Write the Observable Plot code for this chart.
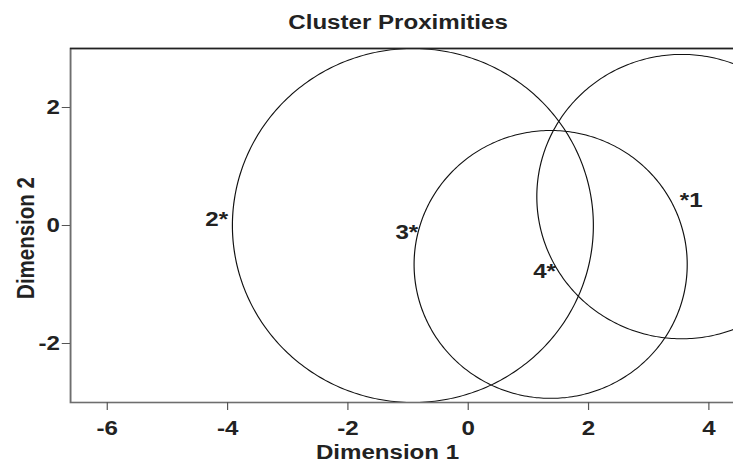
<!DOCTYPE html>
<html><head><meta charset="utf-8">
<script src="https://cdn.jsdelivr.net/npm/d3@7"></script>
<script src="https://cdn.jsdelivr.net/npm/@observablehq/plot@0.6"></script>
<style>
html,body{margin:0;padding:0;background:#fff;overflow:hidden;width:733px;height:464px;}
#chart svg{transform-origin:0 0;transform:scaleX(1.176);display:block;background:#fff;}
</style></head><body><div id="chart"></div>
<script>
// Cluster centres (labels) in the two-dimensional space
const pointIds = ["1", "2", "3", "4"];
const pointX = [3.55, -4.08, -0.92, 1.37];
const pointY = [0.49, 0.23, 0.0, -0.66];
// Proximity circles (centre and radius, in data units)
const circleIds = ["1", "3", "4"];
const circleX = [3.55, -0.92, 1.37];
const circleY = [0.49, 0.0, -0.66];
const circleR = [2.41, 3.0, 2.27];
// Axis ticks
const xTicks = [-6, -4, -2, 0, 2, 4];
const yTicks = [-2, 0, 2];
const titleText = "Cluster Proximities";
const xLabel = "Dimension 1";
const yLabel = "Dimension 2";

const points = pointIds.map((id, i) => ({id, x: pointX[i], y: pointY[i]}));
const circlePts = [];
circleIds.forEach((id, i) => {
  for (let k = 0; k <= 360; k++) {
    const a = k * Math.PI / 180;
    circlePts.push({id, x: circleX[i] + circleR[i] * Math.cos(a), y: circleY[i] + circleR[i] * Math.sin(a)});
  }
});

const W = 700, ML = 59.5;
const frameCx = (ML + W) / 2;
const fmt = d => String(d);
const ink = "#222";

const chart = Plot.plot({
  width: W, height: 464,
  marginLeft: ML, marginRight: 0, marginTop: 48, marginBottom: 62,
  style: {fontFamily: "'Liberation Sans', Arial, Helvetica, sans-serif", fontWeight: "bold", fontSize: "20.5px", color: ink, background: "#fff"},
  x: {domain: [-6.61, 5.91], label: null},
  y: {domain: [-3, 3], label: null},
  marks: [
    Plot.line(circlePts, {x: "x", y: "y", z: "id", stroke: "#111", strokeWidth: 1, clip: true}),
    Plot.frame({stroke: "#6e6e6e", strokeWidth: 1.6}),
    Plot.ruleY([3], {stroke: "#222", strokeWidth: 1.4}),
    Plot.axisX({ticks: xTicks, tickFormat: fmt, tickSize: 8, tickPadding: 10, stroke: "#555", fill: ink, fontSize: 20.5, label: null}),
    Plot.axisY({ticks: yTicks, tickFormat: fmt, tickSize: 7, tickPadding: 2, stroke: "#555", fill: ink, fontSize: 20.5, label: null}),
    Plot.text(points.filter(d => d.id !== "1"), {x: "x", y: "y", text: d => d.id + "*", textAnchor: "end", lineAnchor: "middle", dx: 4.5, dy: 7, fill: ink, fontSize: 20.5}),
    Plot.text(points.filter(d => d.id === "1"), {x: "x", y: "y", text: d => "*" + d.id, textAnchor: "start", lineAnchor: "middle", dx: -1.7, dy: 4, fill: ink, fontSize: 20.5}),
    Plot.text([titleText], {frameAnchor: "top", textAnchor: "middle", lineAnchor: "middle", dy: -26.4, dx: 338 - frameCx, fill: ink, fontSize: 20.5}),
    Plot.text([xLabel], {frameAnchor: "bottom", textAnchor: "middle", lineAnchor: "middle", dy: 49.6, dx: 329 - frameCx, fill: ink, fontSize: 20.5}),
    Plot.text([yLabel], {frameAnchor: "left", textAnchor: "middle", lineAnchor: "middle", rotate: -90, dx: -37.8, dy: 12.5, fill: ink, fontSize: 20.5})
  ]
});
document.getElementById("chart").append(chart);
</script></body></html>
